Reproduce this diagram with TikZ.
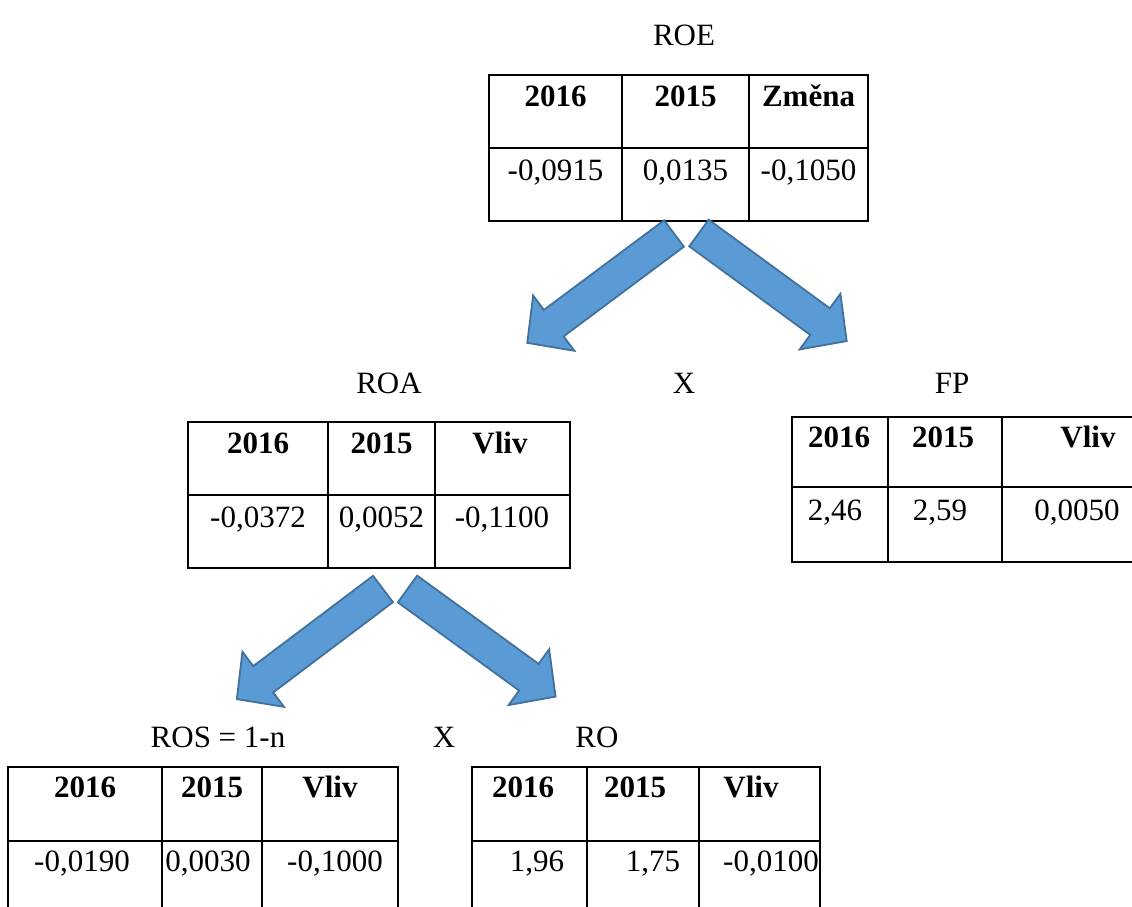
\documentclass[tikz,border=0pt]{standalone}
\usepackage{fontspec}
\setmainfont{Liberation Serif}
\definecolor{arrowfill}{HTML}{5B9BD5}
\definecolor{arrowline}{HTML}{41719C}
\newcommand\tgrid[7]{% left c1 c2 right top mid bottom
  \draw[gridline] (#1,#5) rectangle (#4,#7);
  \draw[gridline] (#1,#6) -- (#4,#6);
  \draw[gridline] (#2,#5) -- (#2,#7);
  \draw[gridline] (#3,#5) -- (#3,#7);}
\newcommand\bigarrow[2]{% tail coordinate, angle
  \draw[bigarr, shift={(#1)}, rotate=#2]
    (0,-16.5) -- (150,-16.5) -- (150,-34.5) -- (183,0) -- (150,34.5) -- (150,16.5) -- (0,16.5) -- cycle;}
\begin{document}
\begin{tikzpicture}[x=1pt,y=-1pt,
  font=\fontsize{31}{37}\selectfont,
  gridline/.style={line width=1.6pt, draw=black},
  lbl/.style={anchor=base, inner sep=0pt, font=\fontsize{31}{37}\selectfont},
  hd/.style={anchor=base, inner sep=0pt, font=\fontsize{31}{37}\selectfont\bfseries},
  bigarr/.style={fill=arrowfill, draw=arrowline, line width=1.8pt, line join=miter}]
\useasboundingbox[fill=white] (0,0) rectangle (1132,906);

% ---------- labels
\node[lbl] (lroe) at (684,45) {ROE};
\node[lbl] (lroa) at (389,393) {ROA};
\node[lbl] (lx1) at (684,393) {X};
\node[lbl] (lfp) at (952,393) {FP};
\node[lbl] (lros) at (218,747) {ROS = 1-n};
\node[lbl] (lx2) at (444,747) {X};
\node[lbl] (lro) at (597,747) {RO};

% ---------- ROE table
\tgrid{489}{622}{749}{868}{75}{148}{221}
\node[hd] (roe11) at (555.5,106) {2016};
\node[hd] (roe12) at (685.5,106) {2015};
\node[hd] (roe13) at (808.5,106) {Změna};
\node[lbl] (roe21) at (555.5,180) {-0,0915};
\node[lbl] (roe22) at (685.5,180) {0,0135};
\node[lbl] (roe23) at (808.5,180) {-0,1050};

% ---------- ROA table
\tgrid{188}{328}{435}{570}{422}{495}{568}
\node[hd] (roa11) at (258,453) {2016};
\node[hd] (roa12) at (381.5,453) {2015};
\node[hd] (roa13) at (500,453) {Vliv};
\node[lbl] (roa21) at (258,527) {-0,0372};
\node[lbl] (roa22) at (381.5,527) {0,0052};
\node[lbl] (roa23) at (502,527) {-0,1100};

% ---------- FP table
\tgrid{792}{888}{1002}{1152}{417}{487}{562}
\node[hd] (fp11) at (839,447) {2016};
\node[hd] (fp12) at (943,447) {2015};
\node[hd] (fp13) at (1088,447) {Vliv};
\node[lbl] (fp21) at (835,520) {2,46};
\node[lbl] (fp22) at (940,520) {2,59};
\node[lbl] (fp23) at (1077,520) {0,0050};

% ---------- ROS table
\tgrid{8}{162}{262}{398}{767}{841}{915}
\node[hd] (ros11) at (85,797) {2016};
\node[hd] (ros12) at (212,797) {2015};
\node[hd] (ros13) at (330,797) {Vliv};
\node[lbl] (ros21) at (82,871) {-0,0190};
\node[lbl] (ros22) at (208,871) {0,0030};
\node[lbl] (ros23) at (335,871) {-0,1000};

% ---------- RO table
\tgrid{472}{587}{699}{820}{767}{841}{915}
\node[hd] (ro11) at (523,797) {2016};
\node[hd] (ro12) at (635,797) {2015};
\node[hd] (ro13) at (751,797) {Vliv};
\node[lbl] (ro21) at (537,871) {1,96};
\node[lbl] (ro22) at (653,871) {1,75};
\node[lbl] (ro23) at (771,871) {-0,0100};

% ---------- arrows
\coordinate (t1) at (674,233.5);
\coordinate (t2) at (699,233);
\coordinate (t3) at (383,589);
\coordinate (t4) at (407.5,589);
\bigarrow{t1}{216.7}
\bigarrow{t2}{-36.2}
\bigarrow{t3}{217}
\bigarrow{t4}{-36}
\end{tikzpicture}
\end{document}
